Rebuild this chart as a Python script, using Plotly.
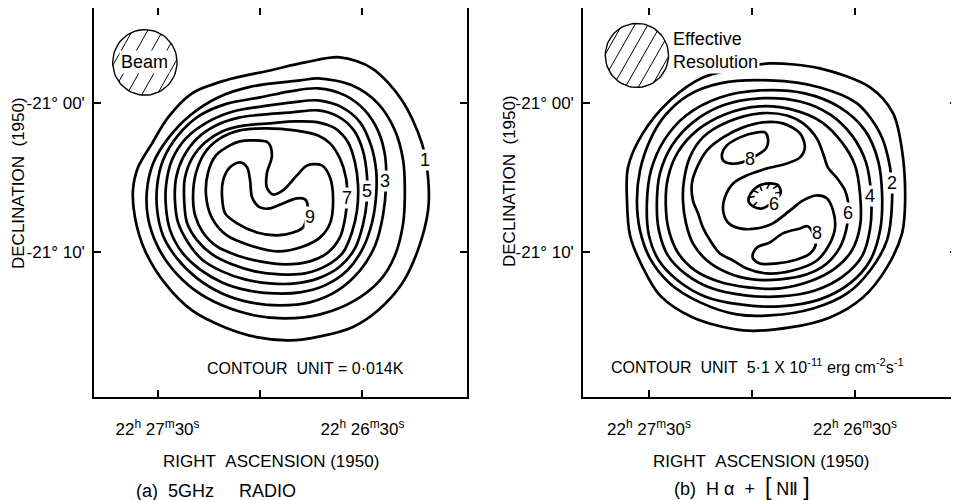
import math
import plotly.graph_objects as go

# Coordinates: RA offset in seconds of time from 22h27m00s (1950), positive = east (left);
# Dec offset in arcminutes from -21°00' (1950).
RA_TICK_VALUES = [30, 0, -30]
RA_TICK_TEXT = ["22<sup>h</sup> 27<sup>m</sup>30<sup>s</sup>", "", "22<sup>h</sup> 26<sup>m</sup>30<sup>s</sup>"]
DEC_TICK_VALUES = [0, -10]
DEC_TICK_TEXT = ["-21° 00'", "-21° 10'"]
RADIO_RA_RANGE = [48.6, -60.6]
HALPHA_RA_RANGE = [49.2, -59.7]
DEC_RANGE = [-19.7, 6.4]

# ---------------- (a) 5 GHz radio contours, levels 1..9 (unit 0.014 K) ----------------
RADIO_C1 = [(-23.4, 3.09), (-13.2, 2.75), (-2.9, 2.21), (10.2, 1.54), (19.9, 0.67), (26.9, -0.94),
            (31.6, -2.68), (35.7, -4.29), (37.2, -5.84), (36.6, -7.65), (33.7, -9.86), (27.8, -12.08),
            (19.9, -13.89), (10.2, -15.03), (0.6, -15.70), (-8.8, -15.90), (-17.6, -15.63), (-26.9, -15.03),
            (-34.5, -13.89), (-41.6, -12.08), (-46.2, -9.86), (-49.2, -7.18), (-49.2, -4.97), (-47.4, -2.68),
            (-41.6, 0.20), (-32.8, 2.35)]
RADIO_C2 = [(-11.7, 1.54), (-17.0, 1.68), (-26.9, 1.21), (-34.5, 0.0), (-39.5, -1.81), (-41.9, -3.82),
            (-42.4, -5.84), (-41.9, -8.05), (-39.5, -10.20), (-35.1, -11.88), (-27.8, -13.22), (-17.6, -14.16),
            (-7.3, -14.43), (1.5, -14.23), (11.1, -13.55), (19.0, -12.55), (25.8, -11.07), (30.1, -9.53),
            (32.8, -7.65), (33.1, -5.84), (31.3, -4.03), (26.9, -2.35), (20.5, -0.81), (12.3, 0.40), (2.3, 1.14)]
RADIO_C3 = [(-17.0, 1.01), (-24.9, 0.54), (-30.7, -0.47), (-34.5, -1.81), (-36.6, -3.49), (-36.9, -5.50),
            (-36.0, -7.52), (-33.7, -9.53), (-29.3, -11.21), (-22.8, -12.55), (-14.6, -13.35), (-5.9, -13.55),
            (2.9, -13.35), (11.1, -12.75), (18.4, -11.74), (24.3, -10.40), (28.4, -8.86), (30.1, -7.18),
            (30.1, -5.50), (28.4, -3.82), (24.0, -2.15), (17.6, -0.81), (9.4, 0.0), (0.0, 0.40), (-8.8, 0.81)]
RADIO_C4 = [(-17.0, 0.20), (-24.0, -0.27), (-29.3, -1.27), (-32.5, -2.82), (-34.0, -4.50), (-34.0, -6.17),
            (-32.8, -7.99), (-30.1, -9.73), (-25.5, -11.21), (-19.0, -12.21), (-11.7, -12.68), (-4.4, -12.75),
            (3.5, -12.55), (11.1, -12.01), (17.6, -11.14), (22.8, -10.00), (26.3, -8.52), (27.5, -7.05),
            (27.5, -5.50), (25.8, -3.82), (21.7, -2.35), (15.5, -1.27), (7.9, -0.54), (-0.6, -0.20), (-9.4, 0.07)]
RADIO_C5 = [(-17.0, -0.47), (-22.8, -0.87), (-27.5, -1.81), (-30.1, -3.15), (-31.3, -4.83), (-31.3, -6.51),
            (-30.1, -8.19), (-27.8, -9.73), (-23.4, -10.94), (-17.0, -11.74), (-10.2, -12.08), (-2.9, -12.08),
            (4.4, -11.81), (11.1, -11.27), (17.0, -10.47), (21.1, -9.33), (24.0, -7.99), (24.9, -6.51),
            (24.6, -5.03), (22.5, -3.62), (18.4, -2.35), (12.9, -1.48), (5.9, -0.94), (-1.5, -0.74), (-9.4, -0.60)]
RADIO_C6 = [(-17.0, -1.27), (-22.0, -1.68), (-25.8, -2.62), (-27.8, -3.96), (-28.7, -5.50), (-28.4, -7.18),
            (-26.9, -8.66), (-24.3, -10.00), (-19.6, -10.87), (-13.2, -11.41), (-5.9, -11.47), (1.5, -11.27),
            (8.2, -10.80), (14.0, -10.13), (18.4, -9.19), (21.4, -7.99), (22.2, -6.51), (22.0, -5.03),
            (19.9, -3.69), (16.1, -2.62), (11.1, -1.88), (4.4, -1.48), (-2.9, -1.34), (-10.2, -1.21)]
RADIO_C7 = [(-17.0, -2.15), (-20.5, -2.68), (-23.4, -3.69), (-25.2, -5.03), (-25.5, -6.37), (-24.9, -7.72),
            (-23.4, -8.99), (-19.9, -10.00), (-14.6, -10.60), (-7.3, -10.80), (0.0, -10.60), (6.7, -10.20),
            (12.6, -9.60), (16.7, -8.66), (19.0, -7.52), (19.6, -6.17), (18.7, -4.63), (16.1, -3.29),
            (11.7, -2.35), (5.9, -1.81), (-1.5, -1.68), (-10.2, -1.81)]
RADIO_C8 = [(2.0, -2.48), (-2.3, -2.62), (-3.5, -3.49), (-2.0, -4.70), (-2.0, -5.64), (-3.8, -6.11),
            (-6.7, -5.84), (-10.8, -4.83), (-13.8, -4.16), (-18.1, -4.16), (-20.5, -4.97), (-21.4, -6.51),
            (-20.5, -8.05), (-17.6, -8.99), (-12.6, -9.60), (-5.0, -9.93), (2.9, -9.53), (9.7, -8.86),
            (14.0, -7.72), (15.8, -6.17), (15.2, -4.63), (12.9, -3.49), (8.8, -2.82), (5.9, -2.55)]
RADIO_C9 = [(-14.0, -6.98), (-13.2, -6.44), (-10.8, -6.37), (-6.7, -6.71), (-2.9, -7.05), (0.0, -6.98),
            (2.3, -6.31), (2.9, -5.17), (3.8, -4.29), (5.9, -3.96), (8.8, -4.29), (10.8, -5.17),
            (11.1, -6.31), (10.2, -7.38), (6.7, -8.05), (0.9, -8.66), (-5.0, -8.86), (-9.7, -8.66), (-12.6, -8.32)]

RADIO_LABEL_TEXT = ["1", "3", "5", "7", "9"]
RADIO_LABEL_RA = [-48.3, -36.6, -31.3, -25.5, -14.6]
RADIO_LABEL_DEC = [-3.82, -5.23, -5.90, -6.37, -7.65]

# ---------------- (b) H-alpha + [NII] contours (unit 5.1e-11 erg cm-2 s-1) ----------------
HALPHA_C1 = [(-5.2, 2.68), (-19.8, 2.35), (-34.4, 1.07), (-41.1, -0.67), (-43.7, -3.15), (-44.6, -6.51),
             (-43.7, -8.72), (-39.3, -11.00), (-32.3, -13.02), (-22.7, -14.36), (-11.1, -15.03), (2.6, -15.23),
             (17.2, -14.36), (26.8, -12.88), (31.8, -11.00), (35.5, -8.86), (36.4, -6.51), (36.1, -4.29),
             (31.8, -2.01), (23.9, 0.20), (14.3, 1.74), (2.6, 2.42)]
HALPHA_C2 = [(-5.2, 1.54), (-19.8, 1.07), (-30.6, 0.0), (-37.3, -2.01), (-40.2, -4.29), (-40.8, -6.51),
             (-39.3, -9.19), (-34.4, -11.21), (-27.7, -12.75), (-17.8, -13.76), (-5.2, -14.23), (4.4, -14.16),
             (15.1, -13.35), (23.9, -12.08), (29.7, -10.40), (32.6, -8.52), (33.5, -6.51), (32.6, -4.50),
             (29.7, -2.48), (25.3, -0.81), (18.6, 0.54), (9.3, 1.34)]
HALPHA_C3 = [(-2.3, 0.87), (-15.4, 0.67), (-25.6, -0.27), (-32.9, -1.81), (-36.7, -3.82), (-37.9, -6.17),
             (-37.3, -8.52), (-34.4, -10.54), (-28.5, -12.08), (-19.8, -13.15), (-8.2, -13.62), (3.5, -13.49),
             (13.7, -12.95), (21.6, -11.88), (27.1, -10.54), (30.0, -8.86), (30.6, -6.71), (29.4, -4.50),
             (25.6, -2.48), (19.2, -0.81), (9.3, 0.40)]
HALPHA_C4 = [(-2.3, 0.34), (-14.0, 0.13), (-22.7, -0.74), (-29.1, -2.15), (-33.2, -3.96), (-34.7, -6.17),
             (-34.4, -8.39), (-32.0, -10.27), (-26.5, -11.61), (-18.4, -12.55), (-8.2, -12.95), (2.0, -12.88),
             (11.7, -12.41), (19.2, -11.47), (24.5, -10.20), (27.1, -8.52), (27.7, -6.71), (26.8, -4.70),
             (23.3, -2.82), (17.2, -1.27), (8.4, -0.13)]
HALPHA_C5 = [(-2.3, -0.20), (-12.5, -0.47), (-20.4, -1.27), (-26.2, -2.62), (-30.0, -4.16), (-31.5, -6.17),
             (-31.5, -8.19), (-29.1, -9.86), (-24.2, -11.07), (-16.9, -11.94), (-8.2, -12.41), (1.2, -12.35),
             (9.9, -11.94), (16.6, -11.21), (21.6, -10.00), (24.2, -8.52), (25.1, -6.84), (24.5, -5.03),
             (21.6, -3.29), (16.0, -1.81), (7.9, -0.74)]
HALPHA_C6 = [(-2.3, -0.67), (-10.2, -0.81), (-14.9, -1.34), (-18.9, -2.35), (-20.7, -3.36), (-22.1, -4.29),
             (-24.8, -5.03), (-27.1, -5.84), (-28.0, -6.64), (-28.0, -7.52), (-27.4, -8.52), (-25.6, -9.66),
             (-21.8, -10.74), (-16.0, -11.47), (-8.2, -11.81), (-0.3, -11.81), (7.3, -11.34), (13.1, -10.54),
             (17.2, -9.39), (19.2, -8.05), (20.1, -6.51), (19.8, -5.17), (18.1, -3.62), (14.3, -2.28), (7.3, -1.27)]
HALPHA_C7 = [(17.2, -6.51), (17.5, -5.37), (16.0, -4.29), (13.1, -3.15), (8.4, -2.28), (2.6, -1.61),
             (-3.2, -1.27), (-9.0, -1.34), (-14.0, -2.01), (-15.4, -2.95), (-14.0, -3.62), (-10.2, -4.03),
             (-4.4, -4.36), (1.5, -4.83), (5.5, -5.37), (7.9, -6.31), (8.4, -7.18), (7.0, -7.99),
             (3.5, -8.39), (-1.5, -8.39), (-6.1, -8.05), (-11.1, -7.18), (-14.9, -6.51), (-18.9, -6.17),
             (-21.8, -6.37), (-23.6, -7.18), (-24.2, -8.32), (-22.7, -9.39), (-18.9, -10.54), (-11.9, -11.21),
             (-4.4, -11.41), (1.5, -11.07), (5.5, -10.54), (9.3, -10.07), (12.2, -9.19), (14.3, -8.32), (15.7, -7.38)]
HALPHA_C8_UPPER = [(8.4, -3.82), (8.7, -3.36), (7.3, -2.82), (3.5, -2.28), (-1.5, -1.95), (-3.8, -1.95),
                   (-4.7, -2.48), (-4.1, -3.02), (-2.3, -3.36), (2.9, -3.96), (6.4, -4.03)]
HALPHA_C8_LOWER = [(-0.3, -10.07), (-1.5, -9.66), (-5.2, -9.33), (-9.0, -8.72), (-14.0, -8.39), (-16.3, -8.25),
                   (-18.6, -9.39), (-16.9, -10.07), (-13.1, -10.47), (-7.3, -10.74), (-2.3, -10.74), (-0.3, -10.40)]
HALPHA_C6_DEPRESSION = [(0.9, -6.31), (-0.3, -5.84), (-2.3, -5.50), (-5.2, -5.37), (-7.6, -5.50), (-8.4, -5.97),
                        (-7.6, -6.31), (-2.9, -7.05), (-0.3, -6.91), (0.9, -6.64)]

HALPHA_LABEL_TEXT = ["2", "4", "6", "8", "8", "6"]
HALPHA_LABEL_RA = [-40.8, -34.4, -28.0, 0.6, -18.9, -6.4]
HALPHA_LABEL_DEC = [-5.37, -6.24, -7.38, -3.76, -8.72, -6.78]

# Beam / effective resolution circles (centre RA s, Dec arcmin, radius arcmin)
BEAM = (33.7, 2.75, 2.2)
RESOLUTION = (33.5, 3.22, 2.15)

ARCMIN_PER_RA_SEC = 15 * math.cos(math.radians(21.0)) / 60.0
FONT = "Liberation Sans, Arial, sans-serif"
LINE_W = 2.7
NB = "\u00a0"

# page body carries an 8 px default margin; layout fractions are measured from it
W, H, PAD = 959, 500, 8


def px_x(p):
    return (p - PAD) / W


def px_y(p):
    return 1 - (p - PAD) / H


fig = go.Figure()


def add_contour(points, xa, ya, closed=True, width=LINE_W):
    xs = [p[0] for p in points]
    ys = [p[1] for p in points]
    if closed:
        xs.append(xs[0])
        ys.append(ys[0])
    fig.add_trace(go.Scatter(x=xs, y=ys, xaxis=xa, yaxis=ya, mode="lines",
                             line=dict(color="black", width=width, shape="spline", smoothing=0.9),
                             hoverinfo="skip", showlegend=False))


for c in [RADIO_C1, RADIO_C2, RADIO_C3, RADIO_C4, RADIO_C5, RADIO_C6, RADIO_C7, RADIO_C8, RADIO_C9]:
    add_contour(c, "x", "y")

for c in [HALPHA_C1, HALPHA_C2, HALPHA_C3, HALPHA_C4, HALPHA_C5, HALPHA_C6, HALPHA_C7,
          HALPHA_C8_UPPER, HALPHA_C8_LOWER, HALPHA_C6_DEPRESSION]:
    add_contour(c, "x2", "y2")

# hachures on the depression contour (pointing inwards)
cx = sum(p[0] for p in HALPHA_C6_DEPRESSION) / len(HALPHA_C6_DEPRESSION)
cy = sum(p[1] for p in HALPHA_C6_DEPRESSION) / len(HALPHA_C6_DEPRESSION)
hx, hy = [], []
for p in HALPHA_C6_DEPRESSION[:7] + HALPHA_C6_DEPRESSION[8:9]:
    dx = (cx - p[0]) * ARCMIN_PER_RA_SEC
    dy = cy - p[1]
    L = math.hypot(dx, dy) or 1
    hx += [p[0], p[0] + 0.4 * dx / L / ARCMIN_PER_RA_SEC, None]
    hy += [p[1], p[1] + 0.4 * dy / L, None]
fig.add_trace(go.Scatter(x=hx, y=hy, xaxis="x2", yaxis="y2", mode="lines",
                         line=dict(color="black", width=1.6), hoverinfo="skip", showlegend=False))


def add_beam(beam, xa, ya, offsets):
    ra0, dec0, r = beam
    xs, ys = [], []
    for i in range(73):
        t = 2 * math.pi * i / 72
        xs.append(ra0 - r * math.cos(t) / ARCMIN_PER_RA_SEC)
        ys.append(dec0 + r * math.sin(t))
    fig.add_trace(go.Scatter(x=xs, y=ys, xaxis=xa, yaxis=ya, mode="lines",
                             line=dict(color="black", width=1.4), hoverinfo="skip", showlegend=False))
    ang = math.radians(60)
    d = (math.cos(ang), math.sin(ang))
    n = (-math.sin(ang), math.cos(ang))
    hx, hy = [], []
    for k in offsets:
        h = math.sqrt(max(r * r - k * k, 0))
        for s in (-h, h):
            X = k * n[0] + s * d[0]
            Y = k * n[1] + s * d[1]
            hx.append(ra0 - X / ARCMIN_PER_RA_SEC)
            hy.append(dec0 + Y)
        hx.append(None)
        hy.append(None)
    fig.add_trace(go.Scatter(x=hx, y=hy, xaxis=xa, yaxis=ya, mode="lines",
                             line=dict(color="black", width=1.0), hoverinfo="skip", showlegend=False))


add_beam(BEAM, "x", "y", [-1.8, -0.9, 0.0, 0.9, 1.8])
add_beam(RESOLUTION, "x2", "y2", [-1.9, -1.15, -0.38, 0.38, 1.15, 1.9])

annotations = []
for t, x, y in zip(RADIO_LABEL_TEXT, RADIO_LABEL_RA, RADIO_LABEL_DEC):
    annotations.append(dict(x=x, y=y, xref="x", yref="y", text=t, showarrow=False, xanchor="center",
                            yanchor="middle", bgcolor="white", borderpad=0,
                            font=dict(size=18, family=FONT, color="black")))
for t, x, y in zip(HALPHA_LABEL_TEXT, HALPHA_LABEL_RA, HALPHA_LABEL_DEC):
    annotations.append(dict(x=x, y=y, xref="x2", yref="y2", text=t, showarrow=False, xanchor="center",
                            yanchor="middle", bgcolor="white", borderpad=0,
                            font=dict(size=18, family=FONT, color="black")))

annotations.append(dict(x=BEAM[0], y=BEAM[1], xref="x", yref="y", text="Beam", showarrow=False,
                        xanchor="center", yanchor="middle", bgcolor="white", borderpad=1,
                        font=dict(size=18, family=FONT, color="black")))
annotations.append(dict(x=23.6, y=3.55, xref="x2", yref="y2", text="Effective<br>Resolution",
                        showarrow=False, xanchor="left", yanchor="middle", align="left", bgcolor="white",
                        font=dict(size=18, family=FONT, color="black")))
annotations.append(dict(x=-13.2, y=-17.8, xref="x", yref="y",
                        text="CONTOUR" + NB * 2 + "UNIT = 0·014K",
                        showarrow=False, xanchor="center", yanchor="middle",
                        font=dict(size=16, family=FONT, color="black")))
annotations.append(dict(x=-1.7, y=-17.6, xref="x2", yref="y2",
                        text="CONTOUR" + NB * 2 + "UNIT" + NB * 2 + "5·1 X 10<sup>-11</sup> erg" + NB
                             + "cm<sup>-2</sup>s<sup>-1</sup>",
                        showarrow=False, xanchor="center", yanchor="middle",
                        font=dict(size=16, family=FONT, color="black")))

# axis titles & captions
for xp, yp in [(18, 183), (509, 181)]:
    annotations.append(dict(x=px_x(xp), y=px_y(yp), xref="paper", yref="paper",
                            text="DECLINATION" + NB * 2 + "(1950)",
                            textangle=-90, showarrow=False, xanchor="center", yanchor="middle",
                            font=dict(size=17, family=FONT, color="black")))
for xp in [271, 761]:
    annotations.append(dict(x=px_x(xp), y=px_y(461), xref="paper", yref="paper",
                            text="RIGHT" + NB * 2 + "ASCENSION (1950)",
                            showarrow=False, xanchor="center", yanchor="middle",
                            font=dict(size=17, family=FONT, color="black")))
annotations.append(dict(x=px_x(216), y=px_y(491), xref="paper", yref="paper",
                        text="(a)" + NB * 2 + "5GHz" + NB * 5 + "RADIO",
                        showarrow=False, xanchor="center", yanchor="middle",
                        font=dict(size=18, family=FONT, color="black")))
annotations.append(dict(x=px_x(742), y=px_y(487), xref="paper", yref="paper",
                        text="(b)" + NB * 2 + "H" + NB + "α" + NB * 2 + "+" + NB * 2
                             + "<span style='font-size:23px'>[</span>" + NB + "NⅡ" + NB
                             + "<span style='font-size:23px'>]</span>",
                        showarrow=False, xanchor="center", yanchor="middle",
                        font=dict(size=18, family=FONT, color="black")))

axis_common = dict(showline=True, linecolor="black", linewidth=1.5, mirror="ticks", ticks="inside",
                   ticklen=7, tickwidth=1.5, tickcolor="black", showgrid=False, zeroline=False,
                   automargin=False, tickfont=dict(size=17, family=FONT, color="black"), fixedrange=True)

fig.update_layout(
    width=W, height=H, margin=dict(l=0, r=0, t=0, b=0, autoexpand=False),
    paper_bgcolor="white", plot_bgcolor="white", showlegend=False,
    font=dict(family=FONT, color="black"),
    xaxis=dict(domain=[px_x(94), px_x(467)], range=RADIO_RA_RANGE, anchor="y",
               tickvals=RA_TICK_VALUES, ticktext=RA_TICK_TEXT, ticklabelstandoff=16, **axis_common),
    yaxis=dict(domain=[px_y(397), px_y(8)], range=DEC_RANGE, anchor="x",
               tickvals=DEC_TICK_VALUES, ticktext=DEC_TICK_TEXT, ticklabelstandoff=4, **axis_common),
    xaxis2=dict(domain=[px_x(583), px_x(957)], range=HALPHA_RA_RANGE, anchor="y2",
                tickvals=RA_TICK_VALUES, ticktext=RA_TICK_TEXT, ticklabelstandoff=16, **axis_common),
    yaxis2=dict(domain=[px_y(397), px_y(8)], range=DEC_RANGE, anchor="x2",
                tickvals=DEC_TICK_VALUES, ticktext=DEC_TICK_TEXT, ticklabelstandoff=4, **axis_common),
    annotations=annotations,
)

fig.write_html("out.html")
